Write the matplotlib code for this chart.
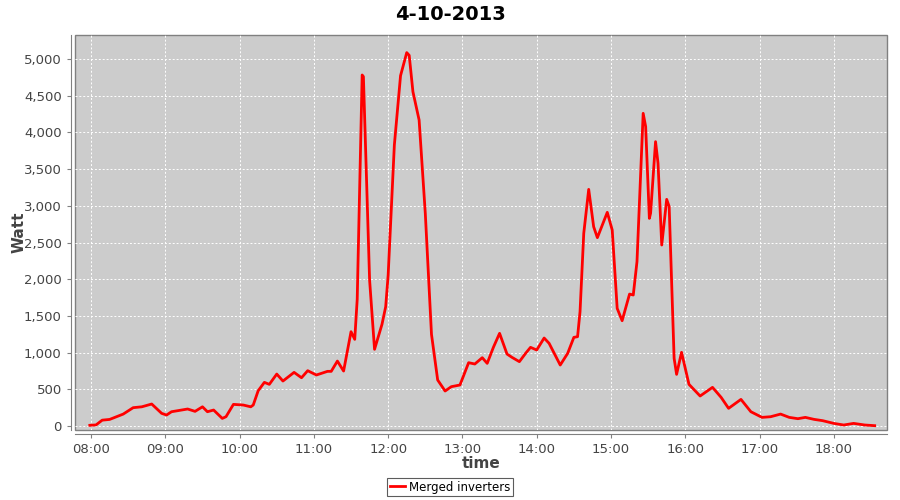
import numpy as np
import matplotlib
matplotlib.use("Agg")
import matplotlib.pyplot as plt
from matplotlib.ticker import FuncFormatter

## readings (time of day, watt)
times = ["07:59", "08:04", "08:09", "08:15", "08:26", "08:34", "08:41", "08:49", "08:57", "09:01",
         "09:05", "09:10", "09:18", "09:24", "09:30", "09:34", "09:39", "09:46", "09:49", "09:55",
         "10:03", "10:09", "10:11", "10:15", "10:20", "10:24", "10:30", "10:35", "10:44", "10:50",
         "10:55", "11:02", "11:11", "11:14", "11:19", "11:24", "11:30", "11:33", "11:35", "11:39",
         "11:40", "11:45", "11:49", "11:55", "11:58", "12:00", "12:05", "12:10", "12:15", "12:17",
         "12:20", "12:25", "12:30", "12:35", "12:40", "12:46", "12:51", "12:58", "13:05", "13:10",
         "13:16", "13:20", "13:25", "13:30", "13:36", "13:40", "13:46", "13:51", "13:55", "14:00",
         "14:06", "14:10", "14:19", "14:25", "14:30", "14:33", "14:35", "14:38", "14:42", "14:46",
         "14:49", "14:57", "15:01", "15:05", "15:09", "15:15", "15:18", "15:21", "15:26", "15:28",
         "15:31", "15:32", "15:36", "15:38", "15:41", "15:45", "15:47", "15:51", "15:53", "15:57",
         "16:03", "16:12", "16:22", "16:29", "16:35", "16:45", "16:53", "17:02", "17:09", "17:17",
         "17:24", "17:31", "17:37", "17:44", "17:51", "18:00", "18:08", "18:16", "18:25", "18:33"]
watt = [10, 15, 80, 90, 163, 250, 262, 300, 173, 150,
        195, 209, 232, 200, 262, 195, 218, 104, 127, 295,
        286, 262, 286, 481, 595, 568, 708, 613, 731, 658,
        754, 695, 745, 745, 885, 749, 1285, 1181, 1726, 4782,
        4760, 1989, 1045, 1385, 1625, 2057, 3828, 4773, 5087, 5050,
        4555, 4169, 2897, 1249, 627, 477, 536, 559, 863, 845,
        931, 854, 1072, 1263, 981, 936, 877, 990, 1072, 1036,
        1199, 1127, 831, 990, 1208, 1217, 1558, 2625, 3224, 2715,
        2566, 2911, 2670, 1603, 1435, 1798, 1785, 2239, 4260, 4080,
        2829, 2900, 3874, 3580, 2466, 3088, 2990, 922, 704, 1004,
        568, 409, 527, 390, 241, 363, 195, 118, 127, 163,
        118, 100, 118, 91, 73, 36, 14, 36, 14, 5]

tick_labels = ["08:00", "09:00", "10:00", "11:00", "12:00", "13:00",
               "14:00", "15:00", "16:00", "17:00", "18:00"]
y_ticks = [0, 500, 1000, 1500, 2000, 2500, 3000, 3500, 4000, 4500, 5000]


def to_hours(s):
    h, m = s.split(":")
    return int(h) + int(m) / 60.0


x = np.array([to_hours(t) for t in times])
xt = [to_hours(t) for t in tick_labels]

plt.rcParams['font.family'] = ['DejaVu Sans']

fig = plt.figure(figsize=(9, 5), dpi=100)
fig.patch.set_facecolor('white')
ax = fig.add_axes([0.0833, 0.14, 0.9023, 0.79])
ax.set_facecolor('#CCCCCC')
ax.patch.set_edgecolor('#808080')
ax.patch.set_linewidth(1.0)

ax.plot(x, watt, color='#FF0000', lw=2, solid_joinstyle='round', label='Merged inverters')

ax.set_xlim(to_hours("07:47"), to_hours("18:43"))
ax.set_ylim(-54, 5327)
ax.set_xticks(xt)
ax.set_xticklabels(tick_labels)
ax.set_yticks(y_ticks)
ax.yaxis.set_major_formatter(FuncFormatter(lambda v, p: f"{int(v):,}"))

ax.grid(True, color='white', linestyle=(0, (2, 2)), linewidth=0.7)
ax.set_axisbelow(True)

for s in ['top', 'right']:
    ax.spines[s].set_visible(False)
for s in ['left', 'bottom']:
    ax.spines[s].set_position(('outward', 3))
    ax.spines[s].set_color('#808080')
ax.tick_params(colors='#808080', labelcolor='#444444', labelsize=9.5, length=3, width=0.8)

ax.set_ylabel('Watt', fontsize=11, fontweight='bold', color='#444444', labelpad=-2)
ax.set_xlabel('time', fontsize=11, fontweight='bold', color='#444444', labelpad=0)
fig.suptitle('4-10-2013', fontsize=14, fontweight='bold', y=0.99)

leg = fig.legend(loc='lower center', bbox_to_anchor=(0.5, 0.0), fontsize=8.5,
                 frameon=True, fancybox=False, handlelength=1.3, borderpad=0.25,
                 handletextpad=0.3, borderaxespad=0.3)
leg.get_frame().set_edgecolor('#333333')
leg.get_frame().set_linewidth(0.8)

fig.savefig('out.png', dpi=100)
